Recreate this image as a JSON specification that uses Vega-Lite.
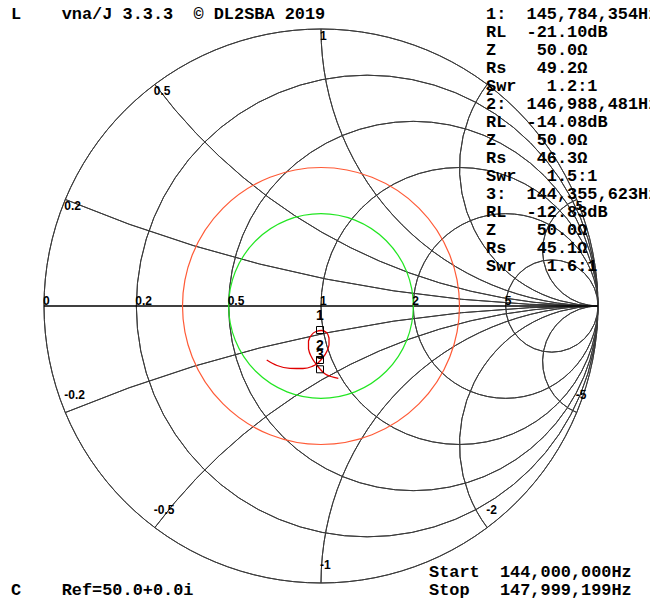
{
  "$schema": "https://vega.github.io/schema/vega-lite/v6.json",
  "width": 650,
  "height": 600,
  "autosize": "none",
  "padding": 0,
  "background": "white",
  "config": {"view": {"stroke": null}},
  "datasets": {
    "grid": [
      {"cx": 0, "cy": 0, "rad": 1, "t1": 0, "t2": 6.28319},
      {"cx": 0.16667, "cy": 0, "rad": 0.83333, "t1": 0, "t2": 6.28319},
      {"cx": 0.33333, "cy": 0, "rad": 0.66667, "t1": 0, "t2": 6.28319},
      {"cx": 0.5, "cy": 0, "rad": 0.5, "t1": 0, "t2": 6.28319},
      {"cx": 0.66667, "cy": 0, "rad": 0.33333, "t1": 0, "t2": 6.28319},
      {"cx": 0.83333, "cy": 0, "rad": 0.16667, "t1": 0, "t2": 6.28319},
      {"cx": 1, "cy": 5, "rad": 5, "t1": 3.14159, "t2": 3.53639},
      {"cx": 1, "cy": 2, "rad": 2, "t1": 3.14159, "t2": 4.06889},
      {"cx": 1, "cy": 1, "rad": 1, "t1": 3.14159, "t2": 4.71239},
      {"cx": 1, "cy": 0.5, "rad": 0.5, "t1": 3.14159, "t2": 5.35589},
      {"cx": 1, "cy": 0.2, "rad": 0.2, "t1": 3.14159, "t2": 5.8884},
      {"cx": 1, "cy": -5, "rad": 5, "t1": -0.39479, "t2": 0},
      {"cx": 1, "cy": -2, "rad": 2, "t1": -0.9273, "t2": 0},
      {"cx": 1, "cy": -1, "rad": 1, "t1": -1.5708, "t2": 0},
      {"cx": 1, "cy": -0.5, "rad": 0.5, "t1": -2.2143, "t2": 0},
      {"cx": 1, "cy": -0.2, "rad": 0.2, "t1": -2.7468, "t2": 0}
    ],
    "swr3": [{"cx": 0, "cy": 0, "rad": 0.5, "t1": 0, "t2": 6.28319}],
    "swr2": [{"cx": 0, "cy": 0, "rad": 0.33333, "t1": 0, "t2": 6.28319}],
    "axisline": [{"g1": -1, "g2": 1, "gy": 0}],
    "trace": [
      {"i": 1, "gx": 0.0625, "gy": -0.261},
      {"i": 2, "gx": 0.0361, "gy": -0.2545},
      {"i": 3, "gx": 0.0126, "gy": -0.2437},
      {"i": 4, "gx": -0.0036, "gy": -0.2274},
      {"i": 5, "gx": -0.0181, "gy": -0.2094},
      {"i": 6, "gx": -0.0343, "gy": -0.1841},
      {"i": 7, "gx": -0.0451, "gy": -0.1552},
      {"i": 8, "gx": -0.0451, "gy": -0.1264},
      {"i": 9, "gx": -0.0343, "gy": -0.1047},
      {"i": 10, "gx": -0.0181, "gy": -0.0921},
      {"i": 11, "gx": 0.0018, "gy": -0.0884},
      {"i": 12, "gx": 0.0199, "gy": -0.0957},
      {"i": 13, "gx": 0.0289, "gy": -0.1155},
      {"i": 14, "gx": 0.0289, "gy": -0.1408},
      {"i": 15, "gx": 0.0199, "gy": -0.1661},
      {"i": 16, "gx": 0.0054, "gy": -0.1877},
      {"i": 17, "gx": -0.0108, "gy": -0.2058},
      {"i": 18, "gx": -0.0325, "gy": -0.2184},
      {"i": 19, "gx": -0.065, "gy": -0.2256},
      {"i": 20, "gx": -0.1119, "gy": -0.2249},
      {"i": 21, "gx": -0.1588, "gy": -0.2148},
      {"i": 22, "gx": -0.196, "gy": -0.1949}
    ],
    "markers": [
      {"gx": -0.0036, "gy": -0.0866, "m": "1"},
      {"gx": -0.0036, "gy": -0.1949, "m": "2"},
      {"gx": -0.0036, "gy": -0.2285, "m": "3"}
    ],
    "labels": [
      {"gx": -1, "gy": 0, "label": "0", "pos": "axis"},
      {"gx": -0.66667, "gy": 0, "label": "0.2", "pos": "axis"},
      {"gx": -0.33333, "gy": 0, "label": "0.5", "pos": "axis"},
      {"gx": 0, "gy": 0, "label": "1", "pos": "axis"},
      {"gx": 0.33333, "gy": 0, "label": "2", "pos": "axis"},
      {"gx": 0.66667, "gy": 0, "label": "5", "pos": "axis"},
      {"gx": -0.92308, "gy": 0.38462, "label": "0.2", "pos": "upper"},
      {"gx": -0.6, "gy": 0.8, "label": "0.5", "pos": "upper"},
      {"gx": 0, "gy": 1, "label": "1", "pos": "upper"},
      {"gx": 0.6, "gy": 0.8, "label": "2", "pos": "upper"},
      {"gx": 0.92308, "gy": 0.38462, "label": "5", "pos": "upper"},
      {"gx": -0.92308, "gy": -0.38462, "label": "-0.2", "pos": "lower"},
      {"gx": -0.6, "gy": -0.8, "label": "-0.5", "pos": "lower"},
      {"gx": 0, "gy": -1, "label": "-1", "pos": "lower"},
      {"gx": 0.6, "gy": -0.8, "label": "-2", "pos": "lower"},
      {"gx": 0.92308, "gy": -0.38462, "label": "-5", "pos": "lower"}
    ],
    "panel": [
      {"col": 1.1, "line": 0, "text": "L\u00a0\u00a0\u00a0\u00a0vna/J 3.3.3\u00a0\u00a0© DL2SBA 2019"},
      {"col": 1.1, "line": 32, "text": "C\u00a0\u00a0\u00a0\u00a0Ref=50.0+0.0i"},
      {"col": 42.9, "line": 31, "text": "Start\u00a0\u00a0144,000,000Hz"},
      {"col": 42.9, "line": 32, "text": "Stop\u00a0\u00a0\u00a0147,999,199Hz"},
      {"col": 48.6, "line": 0, "text": "1:\u00a0\u00a0145,784,354Hz"},
      {"col": 48.6, "line": 1, "text": "\u00a0\u00a0\u00a0\u00a0RL\u00a0\u00a0-21.10dB"},
      {"col": 48.6, "line": 2, "text": "\u00a0\u00a0\u00a0\u00a0Z\u00a0\u00a0\u00a0\u00a050.0Ω"},
      {"col": 48.6, "line": 3, "text": "\u00a0\u00a0\u00a0\u00a0Rs\u00a0\u00a0\u00a049.2Ω"},
      {"col": 48.6, "line": 4, "text": "\u00a0\u00a0\u00a0\u00a0Swr\u00a0\u00a0\u00a01.2:1"},
      {"col": 48.6, "line": 5, "text": "2:\u00a0\u00a0146,988,481Hz"},
      {"col": 48.6, "line": 6, "text": "\u00a0\u00a0\u00a0\u00a0RL\u00a0\u00a0-14.08dB"},
      {"col": 48.6, "line": 7, "text": "\u00a0\u00a0\u00a0\u00a0Z\u00a0\u00a0\u00a0\u00a050.0Ω"},
      {"col": 48.6, "line": 8, "text": "\u00a0\u00a0\u00a0\u00a0Rs\u00a0\u00a0\u00a046.3Ω"},
      {"col": 48.6, "line": 9, "text": "\u00a0\u00a0\u00a0\u00a0Swr\u00a0\u00a0\u00a01.5:1"},
      {"col": 48.6, "line": 10, "text": "3:\u00a0\u00a0144,355,623Hz"},
      {"col": 48.6, "line": 11, "text": "\u00a0\u00a0\u00a0\u00a0RL\u00a0\u00a0-12.83dB"},
      {"col": 48.6, "line": 12, "text": "\u00a0\u00a0\u00a0\u00a0Z\u00a0\u00a0\u00a0\u00a050.0Ω"},
      {"col": 48.6, "line": 13, "text": "\u00a0\u00a0\u00a0\u00a0Rs\u00a0\u00a0\u00a045.1Ω"},
      {"col": 48.6, "line": 14, "text": "\u00a0\u00a0\u00a0\u00a0Swr\u00a0\u00a0\u00a01.6:1"}
    ]
  },
  "resolve": {"scale": {"x": "independent", "y": "independent"}},
  "layer": [
    {
      "data": {"name": "grid"},
      "mark": {"type": "arc", "filled": false, "color": "#3a3a3a", "strokeWidth": 1},
      "encoding": {
        "x": {"field": "cx", "type": "quantitative", "scale": {"domain": [-1.15884, 1.18773], "nice": false, "zero": false}, "axis": null},
        "y": {"field": "cy", "type": "quantitative", "scale": {"domain": [-1.06137, 1.10469], "nice": false, "zero": false}, "axis": null},
        "radius": {"field": "rad", "type": "quantitative", "scale": {"type": "linear", "domain": [0, 1], "range": [0, 277], "zero": true, "nice": false}},
        "radius2": {"field": "rad"},
        "theta": {"field": "t1", "type": "quantitative", "scale": null, "stack": null},
        "theta2": {"field": "t2"}
      }
    },
    {
      "data": {"name": "axisline"},
      "mark": {"type": "rule", "color": "black", "strokeWidth": 1.3},
      "encoding": {
        "x": {"field": "g1", "type": "quantitative", "scale": {"domain": [-1.15884, 1.18773], "nice": false, "zero": false}, "axis": null},
        "x2": {"field": "g2"},
        "y": {"field": "gy", "type": "quantitative", "scale": {"domain": [-1.06137, 1.10469], "nice": false, "zero": false}, "axis": null}
      }
    },
    {
      "data": {"name": "swr3"},
      "mark": {"type": "arc", "filled": false, "color": "#ff5a36", "strokeWidth": 1.2},
      "encoding": {
        "x": {"field": "cx", "type": "quantitative", "scale": {"domain": [-1.15884, 1.18773], "nice": false, "zero": false}, "axis": null},
        "y": {"field": "cy", "type": "quantitative", "scale": {"domain": [-1.06137, 1.10469], "nice": false, "zero": false}, "axis": null},
        "radius": {"field": "rad", "type": "quantitative", "scale": {"type": "linear", "domain": [0, 1], "range": [0, 277], "zero": true, "nice": false}},
        "radius2": {"field": "rad"},
        "theta": {"field": "t1", "type": "quantitative", "scale": null, "stack": null},
        "theta2": {"field": "t2"}
      }
    },
    {
      "data": {"name": "swr2"},
      "mark": {"type": "arc", "filled": false, "color": "#22e622", "strokeWidth": 1.2},
      "encoding": {
        "x": {"field": "cx", "type": "quantitative", "scale": {"domain": [-1.15884, 1.18773], "nice": false, "zero": false}, "axis": null},
        "y": {"field": "cy", "type": "quantitative", "scale": {"domain": [-1.06137, 1.10469], "nice": false, "zero": false}, "axis": null},
        "radius": {"field": "rad", "type": "quantitative", "scale": {"type": "linear", "domain": [0, 1], "range": [0, 277], "zero": true, "nice": false}},
        "radius2": {"field": "rad"},
        "theta": {"field": "t1", "type": "quantitative", "scale": null, "stack": null},
        "theta2": {"field": "t2"}
      }
    },
    {
      "data": {"name": "trace"},
      "mark": {"type": "line", "color": "#e00000", "strokeWidth": 1.3, "interpolate": "monotone"},
      "encoding": {
        "x": {"field": "gx", "type": "quantitative", "scale": {"domain": [-1.15884, 1.18773], "nice": false, "zero": false}, "axis": null},
        "y": {"field": "gy", "type": "quantitative", "scale": {"domain": [-1.06137, 1.10469], "nice": false, "zero": false}, "axis": null},
        "order": {"field": "i", "type": "quantitative"}
      }
    },
    {
      "data": {"name": "markers"},
      "mark": {"type": "point", "shape": "square", "filled": false, "color": "black", "opacity": 1, "size": 49, "strokeWidth": 1},
      "encoding": {
        "x": {"field": "gx", "type": "quantitative", "scale": {"domain": [-1.15884, 1.18773], "nice": false, "zero": false}, "axis": null},
        "y": {"field": "gy", "type": "quantitative", "scale": {"domain": [-1.06137, 1.10469], "nice": false, "zero": false}, "axis": null}
      }
    },
    {
      "data": {"name": "markers"},
      "mark": {"type": "text", "font": "Liberation Sans", "fontWeight": "bold", "fontSize": 14, "color": "black", "align": "center", "baseline": "middle", "dy": -14},
      "encoding": {
        "x": {"field": "gx", "type": "quantitative", "scale": {"domain": [-1.15884, 1.18773], "nice": false, "zero": false}, "axis": null},
        "y": {"field": "gy", "type": "quantitative", "scale": {"domain": [-1.06137, 1.10469], "nice": false, "zero": false}, "axis": null},
        "text": {"field": "m"}
      }
    },
    {
      "data": {"name": "labels"},
      "transform": [{"filter": "datum.pos === 'axis'"}],
      "mark": {"type": "text", "font": "Liberation Sans", "fontWeight": "bold", "fontSize": 12, "color": "black", "align": "left", "baseline": "alphabetic", "dx": -1, "dy": -1},
      "encoding": {
        "x": {"field": "gx", "type": "quantitative", "scale": {"domain": [-1.15884, 1.18773], "nice": false, "zero": false}, "axis": null},
        "y": {"field": "gy", "type": "quantitative", "scale": {"domain": [-1.06137, 1.10469], "nice": false, "zero": false}, "axis": null},
        "text": {"field": "label"}
      }
    },
    {
      "data": {"name": "labels"},
      "transform": [{"filter": "datum.pos === 'upper'"}],
      "mark": {"type": "text", "font": "Liberation Sans", "fontWeight": "bold", "fontSize": 12, "color": "black", "align": "left", "baseline": "top", "dx": -1, "dy": 2},
      "encoding": {
        "x": {"field": "gx", "type": "quantitative", "scale": {"domain": [-1.15884, 1.18773], "nice": false, "zero": false}, "axis": null},
        "y": {"field": "gy", "type": "quantitative", "scale": {"domain": [-1.06137, 1.10469], "nice": false, "zero": false}, "axis": null},
        "text": {"field": "label"}
      }
    },
    {
      "data": {"name": "labels"},
      "transform": [{"filter": "datum.pos === 'lower'"}],
      "mark": {"type": "text", "font": "Liberation Sans", "fontWeight": "bold", "fontSize": 12, "color": "black", "align": "left", "baseline": "alphabetic", "dx": -1, "dy": -14},
      "encoding": {
        "x": {"field": "gx", "type": "quantitative", "scale": {"domain": [-1.15884, 1.18773], "nice": false, "zero": false}, "axis": null},
        "y": {"field": "gy", "type": "quantitative", "scale": {"domain": [-1.06137, 1.10469], "nice": false, "zero": false}, "axis": null},
        "text": {"field": "label"}
      }
    },
    {
      "data": {"name": "panel"},
      "mark": {"type": "text", "font": "Liberation Mono", "fontWeight": "bold", "fontSize": 16.9, "color": "black", "align": "left", "baseline": "middle"},
      "encoding": {
        "x": {"field": "col", "type": "quantitative", "scale": {"domain": [0, 65], "nice": false, "zero": false}, "axis": null},
        "y": {"field": "line", "type": "quantitative", "scale": {"domain": [-0.7778, 32.5556], "reverse": true, "nice": false, "zero": false}, "axis": null},
        "text": {"field": "text"}
      }
    }
  ]
}
